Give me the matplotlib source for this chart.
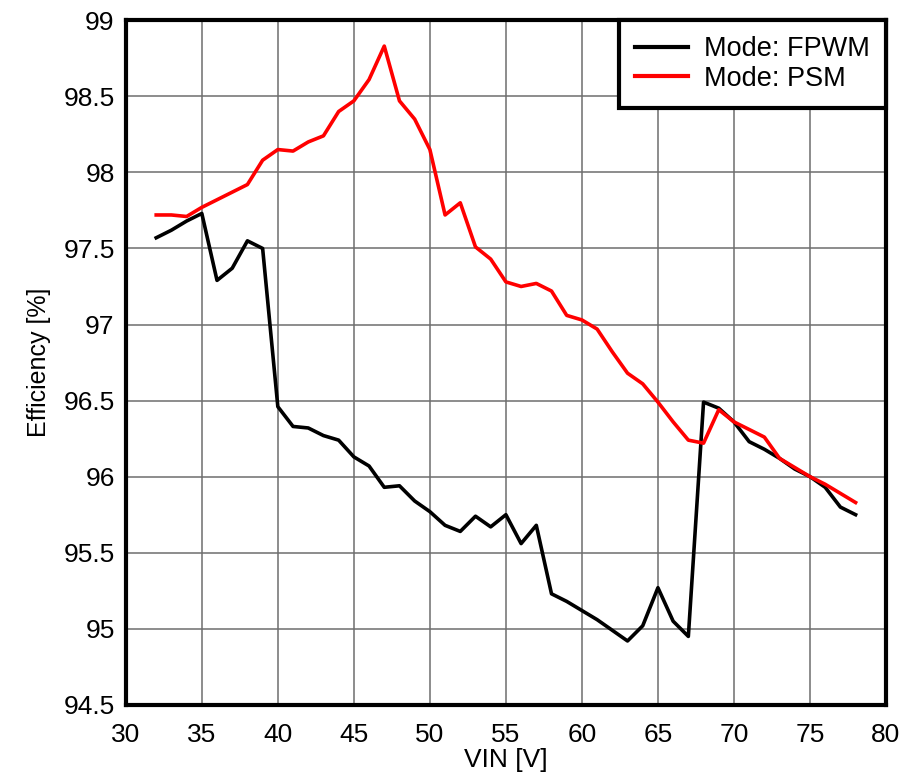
import matplotlib
matplotlib.use("Agg")
import matplotlib.pyplot as plt

# Input voltage sweep [V]
vin = list(range(32, 79))

# Efficiency [%] in forced-PWM mode
eff_fpwm = [97.57, 97.62, 97.68, 97.73, 97.29, 97.37, 97.55, 97.50, 96.46, 96.33,
            96.32, 96.27, 96.24, 96.13, 96.07, 95.93, 95.94, 95.84, 95.77, 95.68,
            95.64, 95.74, 95.67, 95.75, 95.56, 95.68, 95.23, 95.18, 95.12, 95.06,
            94.99, 94.92, 95.02, 95.27, 95.05, 94.95, 96.49, 96.45, 96.36, 96.23,
            96.18, 96.12, 96.05, 96.00, 95.93, 95.80, 95.75]

# Efficiency [%] in power-save mode
eff_psm = [97.72, 97.72, 97.71, 97.77, 97.82, 97.87, 97.92, 98.08, 98.15, 98.14,
           98.20, 98.24, 98.40, 98.47, 98.61, 98.83, 98.47, 98.35, 98.15, 97.72,
           97.80, 97.51, 97.43, 97.28, 97.25, 97.27, 97.22, 97.06, 97.03, 96.97,
           96.82, 96.68, 96.61, 96.49, 96.36, 96.24, 96.22, 96.44, 96.36, 96.31,
           96.26, 96.12, 96.06, 96.00, 95.95, 95.89, 95.83]

series_labels = ["Mode: FPWM", "Mode: PSM"]
x_ticks = [30, 35, 40, 45, 50, 55, 60, 65, 70, 75, 80]
y_ticks = [94.5, 95, 95.5, 96, 96.5, 97, 97.5, 98, 98.5, 99]
y_tick_labels = ["94.5", "95", "95.5", "96", "96.5", "97", "97.5", "98", "98.5", "99"]

plt.rcParams["font.family"] = ["Liberation Sans", "DejaVu Sans"]

fig = plt.figure(figsize=(9.05, 7.78), dpi=100)
ax = fig.add_axes([0.139, 0.094, 0.840, 0.880])

ax.plot(vin, eff_fpwm, color="black", lw=2.6, label=series_labels[0], zorder=3)
ax.plot(vin, eff_psm, color="#ff0000", lw=2.6, label=series_labels[1], zorder=3)

ax.set_xlim(30, 80)
ax.set_ylim(94.5, 99)
ax.set_xticks(x_ticks)
ax.set_yticks(y_ticks)
ax.set_yticklabels(y_tick_labels)
ax.tick_params(length=0, labelsize=19)
ax.tick_params(axis="x", pad=13)
ax.tick_params(axis="y", pad=8)
ax.grid(True, color="#6e6e6e", lw=1.1)
ax.set_axisbelow(True)

for s in ax.spines.values():
    s.set_linewidth(3)
    s.set_color("black")

ax.set_xlabel("VIN [V]", fontsize=19, labelpad=1)
ax.set_ylabel("Efficiency [%]", fontsize=18, labelpad=9)

leg = ax.legend(loc="upper right", borderaxespad=0, fancybox=False,
                framealpha=1, edgecolor="black", handlelength=1.95,
                handletextpad=0.6, borderpad=0.6, labelspacing=0.12,
                prop={"size": 19.5})
leg.get_frame().set_linewidth(3)
for line in leg.get_lines():
    line.set_linewidth(3)

fig.savefig("out.png", dpi=100)
